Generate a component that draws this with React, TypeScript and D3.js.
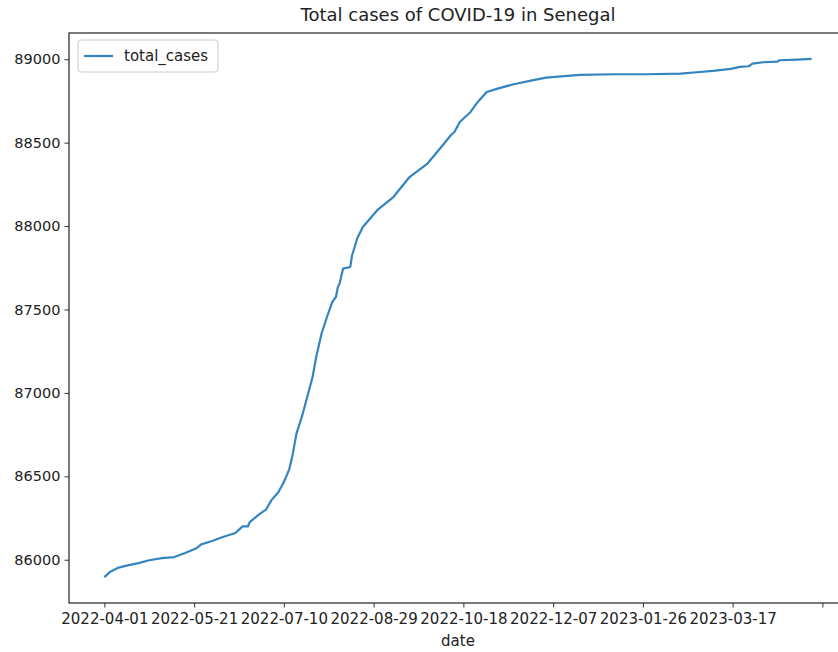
import React, { useEffect, useRef } from "react";
import * as d3 from "d3";

const dates: string[] = [
  "2022-04-01", "2022-04-04", "2022-04-09", "2022-04-14", "2022-04-20", "2022-04-26",
  "2022-05-03", "2022-05-10", "2022-05-16", "2022-05-22", "2022-05-25", "2022-05-31",
  "2022-06-06", "2022-06-13", "2022-06-17", "2022-06-20", "2022-06-21", "2022-06-26",
  "2022-06-30", "2022-07-03", "2022-07-07", "2022-07-10", "2022-07-13", "2022-07-15",
  "2022-07-17", "2022-07-20", "2022-07-23", "2022-07-26", "2022-07-28", "2022-07-31",
  "2022-08-03", "2022-08-06", "2022-08-08", "2022-08-09", "2022-08-10", "2022-08-12",
  "2022-08-16", "2022-08-17", "2022-08-20", "2022-08-23", "2022-08-31", "2022-09-09",
  "2022-09-18", "2022-09-28", "2022-10-05", "2022-10-11", "2022-10-13", "2022-10-16",
  "2022-10-22", "2022-10-26", "2022-10-31", "2022-11-06", "2022-11-15", "2022-11-24",
  "2022-12-03", "2022-12-22", "2023-01-10", "2023-01-28", "2023-02-16", "2023-02-25",
  "2023-03-06", "2023-03-16", "2023-03-21", "2023-03-26", "2023-03-28", "2023-04-03",
  "2023-04-11", "2023-04-12", "2023-04-22", "2023-04-30",
];

const totalCases: number[] = [
  85896, 85926, 85953, 85966, 85980, 85997,
  86010, 86016, 86040, 86067, 86092, 86112,
  86136, 86160, 86200, 86200, 86226, 86270,
  86300, 86356, 86406, 86466, 86542, 86636,
  86756, 86856, 86975, 87095, 87215, 87356,
  87455, 87545, 87575, 87631, 87655, 87745,
  87755, 87825, 87930, 87995, 88095, 88174,
  88294, 88375, 88465, 88544, 88564, 88624,
  88684, 88744, 88804, 88824, 88850, 88870,
  88890, 88906, 88910, 88910, 88914, 88922,
  88930, 88942, 88954, 88958, 88974, 88982,
  88986, 88994, 88998, 89002,
];

const xTickLabels: string[] = [
  "2022-04-01", "2022-05-21", "2022-07-10", "2022-08-29",
  "2022-10-18", "2022-12-07", "2023-01-26", "2023-03-17", "2023-05-06",
];
const xTickShown: string[] = [
  "2022-04-01", "2022-05-21", "2022-07-10", "2022-08-29",
  "2022-10-18", "2022-12-07", "2023-01-26", "2023-03-17", "",
];
const yTicks: number[] = [86000, 86500, 87000, 87500, 88000, 88500, 89000];

const W = 838;
const H = 652;
const margin = { left: 69, right: 847, top: 33, bottom: 603 };
const FONT = "DejaVu Sans, sans-serif";
const FS = 15;

export default function App() {
  const ref = useRef<SVGSVGElement>(null);

  useEffect(() => {
    const svg = d3.select(ref.current);
    svg.selectAll("*").remove();
    const parse = d3.utcParse("%Y-%m-%d");
    const data = dates.map((d, i) => ({ date: parse(d) as Date, v: totalCases[i] }));

    const xExt = d3.extent(data, (d) => d.date.getTime()) as [number, number];
    const xPad = (xExt[1] - xExt[0]) * 0.05;
    const x = d3
      .scaleUtc()
      .domain([new Date(xExt[0] - xPad), new Date(xExt[1] + xPad)])
      .range([margin.left, margin.right]);
    const yExt = d3.extent(data, (d) => d.v) as [number, number];
    const yPad = (yExt[1] - yExt[0]) * 0.05;
    const y = d3
      .scaleLinear()
      .domain([yExt[0] - yPad, yExt[1] + yPad])
      .range([margin.bottom, margin.top]);

    svg.append("rect").attr("width", W).attr("height", H).attr("fill", "#fff");

    const line = d3
      .line<{ date: Date; v: number }>()
      .x((d) => x(d.date))
      .y((d) => y(d.v));
    svg
      .append("path")
      .datum(data)
      .attr("d", line)
      .attr("fill", "none")
      .attr("stroke", "#3385c0")
      .attr("stroke-width", 2.2)
      .attr("stroke-linejoin", "round");

    svg
      .append("rect")
      .attr("x", margin.left)
      .attr("y", margin.top)
      .attr("width", margin.right - margin.left)
      .attr("height", margin.bottom - margin.top)
      .attr("fill", "none")
      .attr("stroke", "#333")
      .attr("stroke-width", 1.3);

    const gy = svg.append("g").attr("transform", `translate(${margin.left},0)`);
    gy.call(
      d3
        .axisLeft(y)
        .tickValues(yTicks)
        .tickFormat((d) => String(d))
        .tickSize(4.5)
        .tickPadding(4)
    );
    gy.select(".domain").remove();
    gy.selectAll("line").attr("stroke", "#333");
    gy.selectAll("text")
      .attr("font-family", FONT)
      .attr("font-size", 14.5)
      .attr("fill", "#222");

    const gx = svg.append("g").attr("transform", `translate(0,${margin.bottom})`);
    gx.call(
      d3
        .axisBottom(x)
        .tickValues(xTickLabels.map((s) => parse(s) as Date))
        .tickFormat((_d, i) => xTickShown[i])
        .tickSize(4.5)
        .tickPadding(6)
    );
    gx.select(".domain").remove();
    gx.selectAll("line").attr("stroke", "#333");
    gx.selectAll("text")
      .attr("font-family", FONT)
      .attr("font-size", FS)
      .attr("fill", "#222");

    svg
      .append("text")
      .attr("x", (margin.left + margin.right) / 2)
      .attr("y", 646)
      .attr("text-anchor", "middle")
      .attr("font-family", FONT)
      .attr("font-size", FS)
      .attr("fill", "#222")
      .text("date");

    svg
      .append("text")
      .attr("x", (margin.left + margin.right) / 2)
      .attr("y", 21)
      .attr("text-anchor", "middle")
      .attr("font-family", FONT)
      .attr("font-size", 18)
      .attr("fill", "#222")
      .text("Total cases of COVID-19 in Senegal");

    const lg = svg.append("g");
    lg.append("rect")
      .attr("x", 78)
      .attr("y", 40)
      .attr("width", 140)
      .attr("height", 32)
      .attr("rx", 3)
      .attr("fill", "#fff")
      .attr("fill-opacity", 0.8)
      .attr("stroke", "#ccc");
    lg.append("line")
      .attr("x1", 84)
      .attr("x2", 113)
      .attr("y1", 56)
      .attr("y2", 56)
      .attr("stroke", "#3385c0")
      .attr("stroke-width", 2.2);
    lg.append("text")
      .attr("x", 124)
      .attr("y", 61)
      .attr("font-family", FONT)
      .attr("font-size", FS)
      .attr("fill", "#222")
      .text("total_cases");
  }, []);

  return (
    <div style={{ position: "absolute", left: 0, top: 0 }}>
      <svg ref={ref} width={W} height={H} style={{ display: "block" }} />
    </div>
  );
}
